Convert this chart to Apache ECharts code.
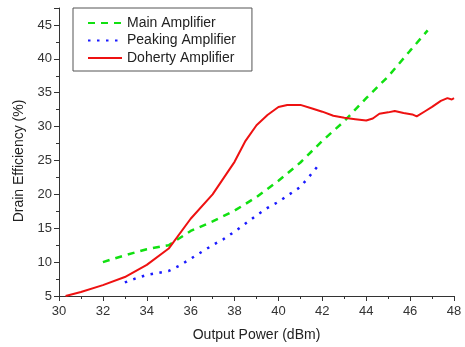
<!DOCTYPE html>
<html>
<head>
<meta charset="utf-8">
<script src="https://cdn.jsdelivr.net/npm/echarts@6/dist/echarts.min.js"></script>
<style>
  html, body { margin: 0; padding: 0; background: #fff; }
  #chart { width: 465px; height: 347px; }
</style>
</head>
<body>
<div id="chart"></div>
<script>
// output power (dBm) / drain efficiency (%) pairs
const mainX = [32, 33, 34, 35, 36, 37, 38, 39, 40, 41, 42, 43, 44, 45, 46, 46.8];
const mainY = [10.0, 11.0, 11.9, 12.5, 14.6, 16.0, 17.6, 19.6, 22.0, 24.7, 27.9, 30.8, 34.2, 37.4, 41.2, 44.2];

const peakX = [33, 33.5, 34, 34.5, 35, 35.5, 36, 36.5, 37, 37.5, 38, 38.5, 39, 39.5, 40, 40.5, 41, 41.5, 41.9];
const peakY = [7.0, 7.6, 8.1, 8.4, 8.7, 9.5, 10.5, 11.5, 12.5, 13.4, 14.5, 15.7, 16.9, 18.0, 18.9, 20.0, 21.1, 23.0, 24.6];

const dohX = [30.3, 31, 32, 33, 34, 35, 36, 37, 38, 38.5, 39, 39.5, 40, 40.4, 41, 41.5, 42, 42.5, 43, 43.5, 44, 44.3, 44.6, 45, 45.3, 45.7, 46.1, 46.3, 46.7, 47, 47.4, 47.7, 47.9, 48];
const dohY = [5.0, 5.6, 6.6, 7.8, 9.6, 12.0, 16.4, 20.0, 24.8, 27.9, 30.2, 31.7, 32.9, 33.2, 33.2, 32.7, 32.2, 31.6, 31.3, 31.1, 30.9, 31.2, 31.9, 32.1, 32.3, 32.0, 31.8, 31.5, 32.3, 32.9, 33.8, 34.2, 34.0, 34.2];

const xTicks = { min: 30, max: 48, step: 2 };
const yTicks = { min: 5, max: 47.5, step: 5 };

const pairs = (xs, ys) => xs.map((x, i) => [x, ys[i]]);

const chart = echarts.init(document.getElementById('chart'), null, { renderer: 'canvas' });

const axisCommon = {
  axisLine: { show: true, onZero: false, lineStyle: { color: '#333', width: 1 } },
  axisTick: { show: true, inside: false, length: 5, lineStyle: { color: '#333' } },
  minorTick: { show: true, splitNumber: 2, length: 3, lineStyle: { color: '#333' } },
  splitLine: { show: false },
  axisLabel: { color: '#333', fontSize: 13, fontFamily: 'Liberation Sans, Arial' },
  nameTextStyle: { color: '#222', fontSize: 14, fontFamily: 'Liberation Sans, Arial' }
};

chart.setOption({
  animation: false,
  backgroundColor: '#fff',
  grid: { left: 59, right: 11, top: 8, bottom: 48, containLabel: false },
  legend: {
    orient: 'vertical',
    left: 73,
    top: 8,
    padding: [8, 16, 6, 14],
    borderColor: '#555',
    borderWidth: 1,
    itemWidth: 34,
    itemHeight: 14,
    itemGap: 3.5,
    itemStyle: { opacity: 0 },
    textStyle: { color: '#222', fontSize: 14, fontFamily: 'Liberation Sans, Arial' },
    data: ['Main Amplifier', 'Peaking Amplifier', 'Doherty Amplifier']
  },
  xAxis: Object.assign({}, axisCommon, {
    type: 'value',
    min: xTicks.min,
    max: xTicks.max,
    interval: xTicks.step,
    name: 'Output Power (dBm)',
    nameLocation: 'middle',
    nameGap: 32,
    axisLabel: Object.assign({}, axisCommon.axisLabel, { margin: 9 })
  }),
  yAxis: Object.assign({}, axisCommon, {
    type: 'value',
    min: yTicks.min,
    max: yTicks.max,
    interval: yTicks.step,
    name: 'Drain Efficiency (%)',
    nameLocation: 'middle',
    nameGap: 27,
    nameTextStyle: Object.assign({}, axisCommon.nameTextStyle, { padding: [0, 18, 0, 0] }),
    axisLabel: Object.assign({}, axisCommon.axisLabel, { margin: 7, showMaxLabel: false })
  }),
  series: [
    {
      name: 'Main Amplifier',
      type: 'line',
      data: pairs(mainX, mainY),
      showSymbol: false,
      symbol: 'none',
      lineStyle: { color: '#11e011', width: 2.5, type: [7, 6] },
      itemStyle: { color: '#11e011' }
    },
    {
      name: 'Peaking Amplifier',
      type: 'line',
      data: pairs(peakX, peakY),
      showSymbol: false,
      symbol: 'none',
      lineStyle: { color: '#1a1aff', width: 2.5, type: [2.5, 6.5] },
      itemStyle: { color: '#1a1aff' }
    },
    {
      name: 'Doherty Amplifier',
      type: 'line',
      data: pairs(dohX, dohY),
      showSymbol: false,
      symbol: 'none',
      lineStyle: { color: '#ee1111', width: 2 },
      itemStyle: { color: '#ee1111' }
    }
  ]
});
</script>
</body>
</html>
